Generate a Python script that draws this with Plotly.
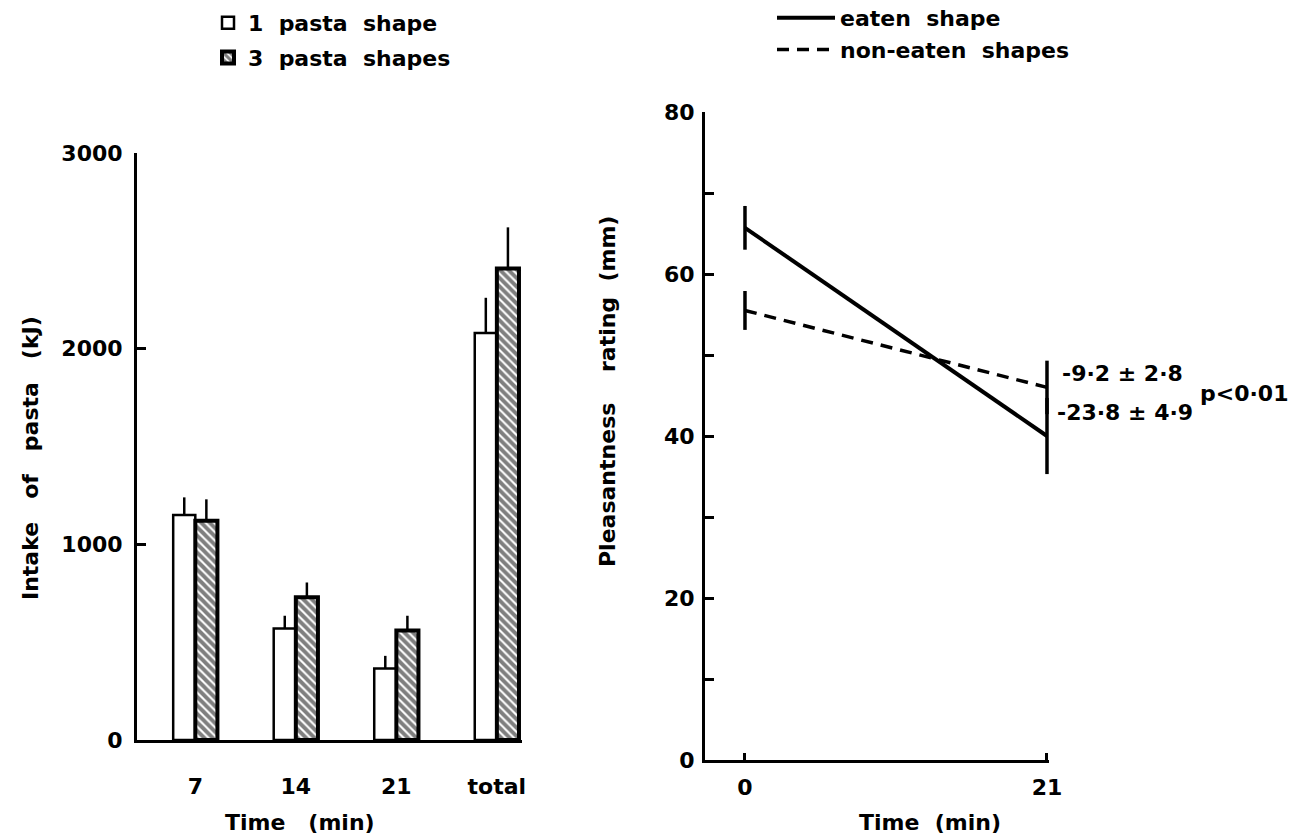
import plotly.graph_objects as go

W, H = 1299, 838


def px(x):
    return x / W


def py(y):
    return 1 - y / H


# ---- data: left panel (pasta intake, kJ) ----
times = ["7", "14", "21", "total"]
one_shape = [1150, 570, 365, 2080]
one_shape_se = [90, 65, 65, 180]
three_shapes = [1120, 730, 560, 2410]
three_shapes_se = [110, 75, 75, 210]

# ---- data: right panel (pleasantness rating, mm) ----
rating_times = [0, 21]
eaten = [65.7, 40.0]
eaten_se = [2.7, 4.7]
non_eaten = [55.5, 46.0]
non_eaten_se = [2.4, 3.3]

diff_labels = ["-9·2 ± 2·8", "-23·8 ± 4·9"]
p_label = "p<0·01"

FONT = "DejaVu Sans"
BLACK = "#000000"
FS = 22
SP = "\u00a0\u00a0"
SP3 = "\u00a0\u00a0\u00a0"

fig = go.Figure()

fig.add_trace(go.Bar(
    x=times, y=one_shape, name="1" + SP + "pasta" + SP + "shape",
    marker=dict(color="white", line=dict(color=BLACK, width=2.5)),
    error_y=dict(type="data", symmetric=False, array=one_shape_se,
                 arrayminus=[0] * len(times), width=0, thickness=2.5, color=BLACK),
    xaxis="x", yaxis="y", legend="legend", legendgroup="a",
))
fig.add_trace(go.Bar(
    x=times, y=three_shapes, name="3" + SP + "pasta" + SP + "shapes",
    marker=dict(color="white", line=dict(color=BLACK, width=4),
                pattern=dict(shape="\\", fgcolor=BLACK, bgcolor="white",
                             size=6, solidity=0.65)),
    error_y=dict(type="data", symmetric=False, array=three_shapes_se,
                 arrayminus=[0] * len(times), width=0, thickness=2.5, color=BLACK),
    xaxis="x", yaxis="y", legend="legend", legendgroup="b",
))

fig.add_trace(go.Scatter(
    x=rating_times, y=eaten, mode="lines", name="eaten" + SP + "shape",
    line=dict(color=BLACK, width=4),
    error_y=dict(type="data", array=eaten_se, width=0, thickness=3.5, color=BLACK),
    xaxis="x2", yaxis="y2", legend="legend2", legendgroup="c",
))
fig.add_trace(go.Scatter(
    x=rating_times, y=non_eaten, mode="lines", name="non-eaten" + SP + "shapes",
    line=dict(color=BLACK, width=3.5, dash="12px,8px"),
    error_y=dict(type="data", array=non_eaten_se, width=0, thickness=3.5, color=BLACK),
    xaxis="x2", yaxis="y2", legend="legend2", legendgroup="d",
))

axis_common = dict(showgrid=False, zeroline=False, showline=True, automargin=False,
                   linecolor=BLACK, linewidth=3, color=BLACK,
                   tickfont=dict(family=FONT, size=FS, color=BLACK, weight="bold"))

fig.update_layout(
    width=W, height=H,
    margin=dict(l=0, r=0, t=0, b=0, autoexpand=False),
    paper_bgcolor="white", plot_bgcolor="white",
    font=dict(family=FONT, size=FS, color=BLACK, weight="bold"),
    barmode="group", bargap=0.56, bargroupgap=0,
    xaxis=dict(domain=[px(137), px(522)], anchor="y", type="category",
               categoryorder="array", categoryarray=times,
               range=[-0.58, 3.25], ticks="", ticklabelstandoff=25,
               **axis_common),
    yaxis=dict(domain=[py(740), py(153)], anchor="x", range=[0, 3000],
               tickvals=[0, 1000, 2000, 3000], ticks="inside", ticklen=9,
               tickwidth=3, tickcolor=BLACK, ticklabelstandoff=7,
               **axis_common),
    xaxis2=dict(domain=[px(705), px(1049)], anchor="y2", range=[-2.78, 21.14],
                tickvals=[0, 21], ticks="inside", ticklen=7, tickwidth=3,
                tickcolor=BLACK, ticklabelstandoff=6, **axis_common),
    yaxis2=dict(domain=[py(760), py(112)], anchor="x2", range=[0, 80],
                tickvals=[0, 20, 40, 60, 80], ticks="inside", ticklen=9,
                tickwidth=3, tickcolor=BLACK, ticklabelstandoff=3,
                minor=dict(tickvals=[10, 30, 50, 70], ticks="inside", ticklen=9,
                           tickwidth=3, tickcolor=BLACK),
                **axis_common),
    legend=dict(x=px(208), y=py(2), xanchor="left", yanchor="top",
                traceorder="grouped", tracegroupgap=3, bgcolor="rgba(0,0,0,0)",
                font=dict(family=FONT, size=FS, color=BLACK, weight="bold"),
                itemwidth=30),
    legend2=dict(x=px(772), y=py(-3), xanchor="left", yanchor="top",
                 traceorder="grouped", tracegroupgap=0, bgcolor="rgba(0,0,0,0)",
                 font=dict(family=FONT, size=FS, color=BLACK, weight="bold"),
                 itemwidth=58),
    showlegend=True,
)

ann_font = dict(family=FONT, size=FS, color=BLACK, weight="bold")
annotations = [
    dict(text="Intake" + SP3 + "of" + SP3 + "pasta" + SP3 + "(kJ)", x=px(30), y=py(458),
         textangle=-90),
    dict(text="Time" + SP3 + "(min)", x=px(300), y=py(822)),
    dict(text="Pleasantness" + SP3 + "\u00a0rating" + SP + "(mm)", x=px(608), y=py(392),
         textangle=-90),
    dict(text="Time" + SP + "(min)", x=px(930), y=py(822)),
    dict(text=diff_labels[0], x=px(1060), y=py(373), xanchor="left"),
    dict(text=diff_labels[1], x=px(1055), y=py(412), xanchor="left"),
    dict(text=p_label, x=px(1198), y=py(393), xanchor="left"),
]
for a in annotations:
    a.setdefault("xanchor", "center")
    fig.add_annotation(xref="paper", yref="paper", showarrow=False,
                       yanchor="middle", font=ann_font, **a)

fig.write_html("out.html")
